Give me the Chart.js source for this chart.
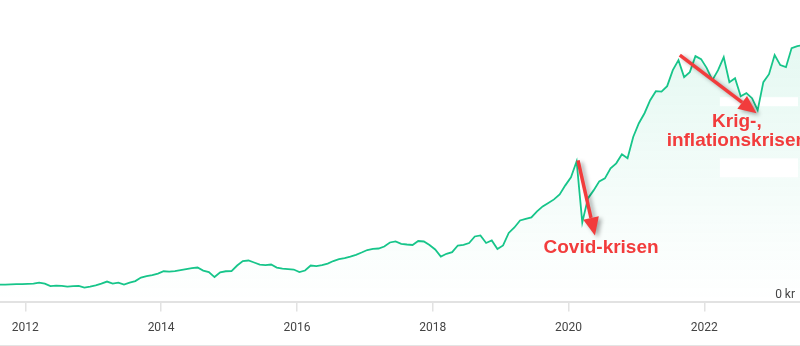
<!DOCTYPE html>
<html>
<head>
<meta charset="utf-8">
<script src="https://cdn.jsdelivr.net/npm/chart.js@4.4.0/dist/chart.umd.min.js"></script>
<style>
  html, body { margin: 0; padding: 0; background: #fff; }
  #wrap { position: relative; width: 800px; height: 346px; }
</style>
</head>
<body>
<div id="wrap"><canvas id="myChart"></canvas></div>
<script>
// monthly closing values, first point mid-Aug 2011
var startYear = 2011.62;
var values = [
  17, 17, 17.2, 17.4, 17.5, 17.7, 18, 19, 18, 15.5, 16, 15.7,
  15, 15.5, 15.7, 14, 15, 16.3, 18, 20, 18, 19, 17, 19,
  20.5, 24, 25.5, 26.5, 28, 30.3, 30, 30.5, 31.5, 32.5, 33.5, 34,
  31, 29.5, 24.5, 29.3, 30.3, 30.5, 36, 40.5, 41, 39, 37, 36.5,
  37, 34, 33, 32.5, 32, 29.5, 31, 36, 35.5, 36.5, 38, 40.5,
  42.3, 43.5, 45, 46.7, 49, 51.5, 52.7, 53, 55, 59, 60, 57.7,
  57, 56.5, 60.5, 60, 56.5, 52, 45, 47.7, 49.3, 56, 56.7, 58.5,
  65, 66, 58.5, 61, 52.5, 56, 68.5, 74, 81, 82.5, 84, 90,
  95, 98.5, 102, 107, 116, 124, 140, 79, 103, 111, 120, 123,
  133, 138, 147, 143, 164.3, 178, 188, 201, 210, 209.5, 215, 231,
  241, 224, 229, 245, 242, 233, 221, 231, 244, 219, 223, 205,
  208, 203, 191, 219, 227, 246, 236, 234, 253, 255, 256
];
var tickYears = [2012, 2014, 2016, 2018, 2020, 2022];
var yTickValues = [0];

// annotations: arrow start/end and text anchor in data units
var arrowFrom = [[2020.14, 141], [2021.64, 246]];
var arrowTo = [[2020.39, 66], [2022.77, 188]];
var noteText = [['Covid-krisen'], ['Krig-,', 'inflationskrisen']];
var noteAt = [[2020.48, 49], [2022.48, 174]];
var whiteBoxes = [[2022.23, 204, 2023.38, 195], [2022.23, 143, 2023.38, 124]];

var points = values.map(function (v, i) { return { x: startYear + i / 12, y: v }; });

var green = '#17c58a';
var red = '#f23c3c';

function fillGradient(context) {
  var chart = context.chart;
  var area = chart.chartArea;
  if (!area) return null;
  var g = chart.ctx.createLinearGradient(0, area.top, 0, area.bottom);
  g.addColorStop(0, 'rgba(23,197,138,0.13)');
  g.addColorStop(1, 'rgba(23,197,138,0)');
  return g;
}

function drawArrow(ctx, x1, y1, x2, y2) {
  var ang = Math.atan2(y2 - y1, x2 - x1);
  var headLen = 18, headW = 8;
  var bx = x2 - headLen * Math.cos(ang), by = y2 - headLen * Math.sin(ang);
  ctx.beginPath();
  ctx.moveTo(x1, y1);
  ctx.lineTo(bx, by);
  ctx.stroke();
  ctx.beginPath();
  ctx.moveTo(x2, y2);
  ctx.lineTo(bx + headW * Math.sin(ang), by - headW * Math.cos(ang));
  ctx.lineTo(bx - headW * Math.sin(ang), by + headW * Math.cos(ang));
  ctx.closePath();
  ctx.fill();
}

var notesPlugin = {
  id: 'notes',
  beforeDatasetsDraw: function (chart) {
    var ctx = chart.ctx, xs = chart.scales.x, ys = chart.scales.y;
    ctx.save();
    ctx.fillStyle = '#ffffff';
    whiteBoxes.forEach(function (b) {
      var x1 = xs.getPixelForValue(b[0]), y1 = ys.getPixelForValue(b[1]);
      var x2 = xs.getPixelForValue(b[2]), y2 = ys.getPixelForValue(b[3]);
      ctx.fillRect(x1, y1, x2 - x1, y2 - y1);
    });
    ctx.restore();
  },
  afterDatasetsDraw: function (chart) {
    var ctx = chart.ctx, xs = chart.scales.x, ys = chart.scales.y;
    ctx.save();
    // y axis label, drawn inside the plot at the right edge
    ctx.fillStyle = '#444';
    ctx.font = '12px Roboto';
    ctx.textAlign = 'right';
    ctx.textBaseline = 'middle';
    yTickValues.forEach(function (v) {
      ctx.fillText(v + ' kr', chart.chartArea.right - 5, ys.getPixelForValue(v) - 7);
    });

    ctx.strokeStyle = red;
    ctx.fillStyle = red;
    ctx.lineWidth = 3.5;
    ctx.shadowColor = 'rgba(0,0,0,0.35)';
    ctx.shadowBlur = 4;
    ctx.shadowOffsetX = 3;
    ctx.shadowOffsetY = 2;
    for (var i = 0; i < arrowFrom.length; i++) {
      drawArrow(ctx,
        xs.getPixelForValue(arrowFrom[i][0]), ys.getPixelForValue(arrowFrom[i][1]),
        xs.getPixelForValue(arrowTo[i][0]), ys.getPixelForValue(arrowTo[i][1]));
    }
    ctx.shadowColor = 'transparent';
    ctx.font = 'bold 19px "Liberation Sans", Arial, sans-serif';
    ctx.textAlign = 'center';
    ctx.textBaseline = 'alphabetic';
    for (var j = 0; j < noteText.length; j++) {
      var cx = xs.getPixelForValue(noteAt[j][0]);
      var cy = ys.getPixelForValue(noteAt[j][1]);
      noteText[j].forEach(function (line, k) {
        ctx.fillText(line, cx, cy + k * 19);
      });
    }
    ctx.restore();
  },
  afterDraw: function (chart) {
    var ctx = chart.ctx;
    ctx.save();
    ctx.strokeStyle = '#e4e4e4';
    ctx.lineWidth = 1;
    ctx.beginPath();
    ctx.moveTo(0, 345.5);
    ctx.lineTo(chart.width, 345.5);
    ctx.stroke();
    ctx.restore();
  }
};

var ctx = document.getElementById('myChart').getContext('2d');
var myChart = new Chart(ctx, {
  type: 'line',
  data: {
    datasets: [{
      data: points,
      borderColor: green,
      borderWidth: 1.8,
      pointRadius: 0,
      tension: 0,
      fill: 'origin',
      backgroundColor: fillGradient
    }]
  },
  options: {
    responsive: true,
    maintainAspectRatio: false,
    animation: false,
    devicePixelRatio: 1,
    layout: {
      padding: { left: 0, right: 0, top: 0, bottom: 2 }
    },
    plugins: {
      legend: { display: false },
      tooltip: { enabled: false },
      filler: { drawTime: 'beforeDatasetsDraw' }
    },
    scales: {
      x: {
        type: 'linear',
        min: 2011.627,
        max: 2023.41,
        afterBuildTicks: function (scale) {
          scale.ticks = tickYears.map(function (v) { return { value: v }; });
        },
        grid: { drawOnChartArea: false, drawTicks: true, tickLength: 10, color: '#e2e2e2', lineWidth: 1.5 },
        border: { display: true, color: '#e2e2e2', width: 2 },
        ticks: {
          color: '#444',
          font: { family: 'Roboto', size: 12 },
          padding: 9,
          maxRotation: 0,
          autoSkip: false,
          callback: function (v) { return String(v); }
        }
      },
      y: {
        display: false,
        min: 0,
        max: 301
      }
    }
  },
  plugins: [notesPlugin]
});
</script>
</body>
</html>
